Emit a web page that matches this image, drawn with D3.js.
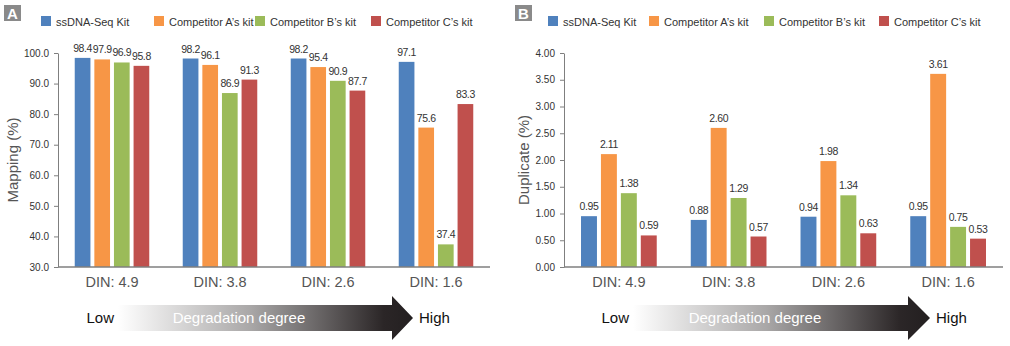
<!DOCTYPE html>
<html>
<head>
<meta charset="utf-8">
<script src="https://cdn.jsdelivr.net/npm/d3@7"></script>
<style>
  body { margin: 0; background: #fff; }
  text { font-family: "Liberation Sans", Arial, sans-serif; }
</style>
</head>
<body>
<svg id="chart"></svg>
<script>
var categories = ["DIN: 4.9", "DIN: 3.8", "DIN: 2.6", "DIN: 1.6"];
var seriesNames = ["ssDNA-Seq Kit", "Competitor A\u2019s kit", "Competitor B\u2019s kit", "Competitor C\u2019s kit"];
var colors = ["#4f81bd", "#f79646", "#9bbb59", "#c0504d"];

// panel A: mapping rate (%)
var mapSsdna = [98.4, 98.2, 98.2, 97.1];
var mapCompA = [97.9, 96.1, 95.4, 75.6];
var mapCompB = [96.9, 86.9, 90.9, 37.4];
var mapCompC = [95.8, 91.3, 87.7, 83.3];
var mapTicks = [30, 40, 50, 60, 70, 80, 90, 100];

// panel B: duplicate rate (%)
var dupSsdna = [0.95, 0.88, 0.94, 0.95];
var dupCompA = [2.11, 2.60, 1.98, 3.61];
var dupCompB = [1.38, 1.29, 1.34, 0.75];
var dupCompC = [0.59, 0.57, 0.63, 0.53];
var dupTicks = [0, 0.5, 1, 1.5, 2, 2.5, 3, 3.5, 4];

var screen = { width: 1010, height: 346 };
var svg = d3.select('#chart')
            .attr('width', screen.width)
            .attr('height', screen.height);

var defs = svg.append('defs');
var grad = defs.append('linearGradient')
               .attr('id', 'arrowGrad')
               .attr('x1', '0%').attr('x2', '100%')
               .attr('y1', '0%').attr('y2', '0%');
grad.append('stop').attr('offset', '0%').attr('stop-color', '#ffffff');
grad.append('stop').attr('offset', '45%').attr('stop-color', '#a9a7a7');
grad.append('stop').attr('offset', '90%').attr('stop-color', '#2b2627');
grad.append('stop').attr('offset', '100%').attr('stop-color', '#231f20');

var drawPanel = function(p)
{
  var g = svg.append('g').classed('panel', true);

  // panel letter
  g.append('rect')
   .attr('x', p.boxX).attr('y', 5)
   .attr('width', 17).attr('height', 16)
   .attr('fill', '#8a8a8a');
  g.append('text')
   .attr('x', p.boxX + 8.5).attr('y', 18.5)
   .attr('text-anchor', 'middle')
   .attr('fill', '#fff')
   .attr('font-size', 15)
   .attr('font-weight', 'bold')
   .text(p.letter);

  // legend
  var legend = g.selectAll('.legend')
                .data(seriesNames)
                .enter()
                .append('g')
                .classed('legend', true)
                .attr('transform', function(d, i) { return 'translate(' + p.legendX[i] + ',16)'; });
  legend.append('rect')
        .attr('width', 10).attr('height', 10)
        .attr('fill', function(d, i) { return colors[i]; });
  legend.append('text')
        .attr('x', 15).attr('y', 9.5)
        .attr('font-size', 11)
        .attr('fill', '#333')
        .text(function(d) { return d; });

  var top = 53, bottom = 267;
  var xscale = d3.scaleBand()
                 .domain(categories)
                 .range([p.left, p.right]);
  var inner = xscale.bandwidth() * 0.155;
  var x1 = d3.scaleBand()
             .domain(d3.range(seriesNames.length))
             .range([inner, xscale.bandwidth() - inner])
             .paddingInner(0.2);
  var yscale = d3.scaleLinear()
                 .domain(p.domain)
                 .range([bottom, top]);

  // y axis
  var yAxis = d3.axisLeft(yscale)
                .tickValues(p.ticks)
                .tickFormat(d3.format(p.fmt))
                .tickSize(4)
                .tickSizeOuter(0)
                .tickPadding(5);
  var ya = g.append('g')
            .attr('transform', 'translate(' + p.left + ',0)')
            .call(yAxis);
  ya.select('.domain').attr('stroke', '#7f7f7f');
  ya.selectAll('.tick line').attr('stroke', '#7f7f7f');
  ya.selectAll('.tick text')
    .attr('font-size', 10)
    .attr('fill', '#333')
    .style('font-family', '"Liberation Sans", Arial, sans-serif');

  // bars
  var groups = g.selectAll('.grp')
                .data(categories)
                .enter()
                .append('g')
                .classed('grp', true)
                .attr('transform', function(d) { return 'translate(' + xscale(d) + ',0)'; });
  var cells = groups.selectAll('.bar')
                    .data(function(d, ci)
                    {
                      return p.series.map(function(s, si) { return { s: si, v: s[ci] }; });
                    })
                    .enter();
  cells.append('rect')
       .classed('bar', true)
       .attr('x', function(d) { return x1(d.s); })
       .attr('width', x1.bandwidth())
       .attr('y', function(d) { return yscale(d.v); })
       .attr('height', function(d) { return bottom - yscale(d.v); })
       .attr('fill', function(d) { return colors[d.s]; });
  cells.append('text')
       .attr('x', function(d) { return x1(d.s) + x1.bandwidth() / 2; })
       .attr('y', function(d) { return yscale(d.v) - 6; })
       .attr('text-anchor', 'middle')
       .attr('font-size', 10.5)
       .attr('letter-spacing', -0.4)
       .attr('fill', '#333')
       .text(function(d) { return d3.format(p.fmt)(d.v); });

  // x axis line + category labels
  g.append('line')
   .attr('x1', p.left).attr('x2', p.right)
   .attr('y1', bottom).attr('y2', bottom)
   .attr('stroke', '#7f7f7f')
   .attr('stroke-width', 1.5);
  g.selectAll('.xlab')
   .data(categories)
   .enter()
   .append('text')
   .attr('x', function(d) { return xscale(d) + xscale.bandwidth() / 2; })
   .attr('y', 287)
   .attr('text-anchor', 'middle')
   .attr('font-size', 14.5)
   .attr('fill', '#555')
   .text(function(d) { return d; });

  // y title
  g.append('text')
   .attr('transform', 'translate(' + p.titleX + ',' + ((top + bottom) / 2) + ') rotate(-90)')
   .attr('text-anchor', 'middle')
   .attr('font-size', 15)
   .attr('fill', '#555')
   .text(p.title);

  // degradation arrow
  var a = p.arrow;
  var bodyTop = 305, bodyBot = 331, headTop = 296, headBot = 340, mid = 318;
  g.append('path')
   .attr('d', 'M' + a.x0 + ',' + bodyTop + 'L' + a.xh + ',' + bodyTop + 'L' + a.xh + ',' + headTop +
              'L' + a.tip + ',' + mid + 'L' + a.xh + ',' + headBot + 'L' + a.xh + ',' + bodyBot +
              'L' + a.x0 + ',' + bodyBot + 'Z')
   .attr('fill', 'url(#arrowGrad)');
  g.append('text')
   .attr('x', a.x0 - 4).attr('y', mid + 5)
   .attr('text-anchor', 'end')
   .attr('font-size', 15)
   .attr('fill', '#111')
   .text('Low');
  g.append('text')
   .attr('x', a.tip + 6).attr('y', mid + 5)
   .attr('font-size', 15)
   .attr('fill', '#111')
   .text('High');
  g.append('text')
   .attr('x', a.label).attr('y', mid + 5)
   .attr('text-anchor', 'middle')
   .attr('font-size', 15)
   .attr('fill', '#fff')
   .text('Degradation degree');
}

drawPanel({
  letter: 'A', boxX: 4,
  legendX: [41, 154, 255, 371],
  left: 58, right: 490,
  domain: [30, 100], ticks: mapTicks, fmt: '.1f',
  series: [mapSsdna, mapCompA, mapCompB, mapCompC],
  title: 'Mapping (%)', titleX: 18,
  arrow: { x0: 118, xh: 392, tip: 413, label: 239 }
});

drawPanel({
  letter: 'B', boxX: 515,
  legendX: [548, 649, 764, 879],
  left: 564, right: 1003,
  domain: [0, 4], ticks: dupTicks, fmt: '.2f',
  series: [dupSsdna, dupCompA, dupCompB, dupCompC],
  title: 'Duplicate (%)', titleX: 529,
  arrow: { x0: 633, xh: 908, tip: 930, label: 755 }
});
</script>
</body>
</html>
